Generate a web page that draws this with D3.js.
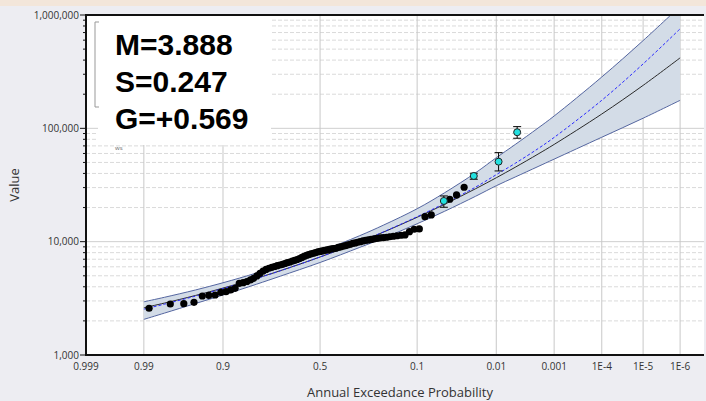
<!DOCTYPE html>
<html>
<head>
<meta charset="utf-8">
<script src="https://cdn.jsdelivr.net/npm/d3@7"></script>
<style>
  body { margin: 0; background: #ededf2; }
  svg { display: block; }
</style>
</head>
<body>
<div id="chart"></div>
<script>
// axis ticks
var probTicks = [0.999, 0.99, 0.9, 0.5, 0.1, 0.01, 0.001, 1e-4, 1e-5, 1e-6]
var probTickLabels = ['0.999', '0.99', '0.9', '0.5', '0.1', '0.01', '0.001', '1E-4', '1E-5', '1E-6']
var valueTicks = [1000, 10000, 100000, 1000000]
var valueTickLabels = ['1,000', '10,000', '100,000', '1,000,000']

// fitted curves, read at these exceedance probabilities
var curveProbs = [0.99, 0.98, 0.95, 0.9, 0.8, 0.7, 0.5, 0.3, 0.2, 0.1, 0.05, 0.02, 0.01, 0.005, 0.002, 0.001, 1e-4, 1e-5, 1e-6]
var computedCurve = [2611, 2872, 3352, 3895, 4748, 5544, 7325, 9966, 12185, 16415, 21380, 29330, 36640, 45320, 59290, 72110, 133700, 239300, 418500]
var expectedCurve = [2540, 2810, 3310, 3860, 4730, 5535, 7325, 9985, 12230, 16600, 21800, 30300, 39000, 49110, 66200, 83100, 176700, 370200, 755300]
var upperLimit = [2948, 3231, 3748, 4339, 5284, 6164, 8194, 11300, 14040, 19520, 27020, 40560, 55030, 71950, 100600, 128400, 283700, 594500, 1193000]
var lowerLimit = [2062, 2343, 2848, 3379, 4207, 4961, 6551, 8906, 10780, 14390, 18550, 25160, 31150, 37170, 46020, 53480, 83430, 122800, 176700]

// observed peaks (systematic record)
var obsProb = [0.988, 0.976, 0.964, 0.952, 0.940, 0.929, 0.917, 0.905, 0.893, 0.881, 0.869, 0.857,
  0.845, 0.833, 0.821, 0.810, 0.798, 0.786, 0.774, 0.762, 0.750, 0.738, 0.726, 0.714, 0.702, 0.690,
  0.679, 0.667, 0.655, 0.643, 0.631, 0.619, 0.607, 0.595, 0.583, 0.571, 0.560, 0.548, 0.536, 0.524,
  0.512, 0.500, 0.488, 0.476, 0.464, 0.452, 0.440, 0.429, 0.417, 0.405, 0.393, 0.381, 0.369, 0.357,
  0.345, 0.333, 0.321, 0.310, 0.298, 0.286, 0.274, 0.262, 0.250, 0.238, 0.226, 0.214, 0.202, 0.190,
  0.179, 0.167, 0.155, 0.143, 0.131, 0.119, 0.107, 0.095, 0.083, 0.071, 0.0434, 0.0358, 0.0286]
var obsValue = [2584, 2819, 2837, 2918, 3317, 3365, 3385, 3575, 3620, 3748, 3879, 4294,
  4346, 4453, 4592, 4753, 4982, 5261, 5513, 5684, 5825, 5943, 6040, 6140, 6227, 6316,
  6420, 6526, 6618, 6755, 6850, 6963, 7106, 7253, 7402, 7554, 7679, 7788, 7900, 7997,
  8112, 8194, 8278, 8363, 8448, 8535, 8622, 8674, 8744, 8888, 8978, 9107, 9219, 9351,
  9485, 9641, 9739, 9879, 10000, 10143, 10247, 10351, 10457, 10564, 10671, 10781, 10847, 10935,
  11046, 11160, 11273, 11388, 11457, 12255, 12868, 12947, 16623, 17206, 23670, 25840, 30210]

// historic peaks with interval bars
var histProb = [0.0511, 0.0212, 0.00921, 0.00463]
var histValue = [22870, 38010, 50830, 92370]
var histLow = [20120, 35540, 42070, 81760]
var histHigh = [25320, 40160, 61030, 103500]

var statLines = ['M=3.888', 'S=0.247', 'G=+0.569']

var w = 706
var h = 401
var plot = { left: 86, right: 704, top: 15, bottom: 355 }

// inverse standard normal (Acklam)
function normInv (p) {
  var a = [-3.969683028665376e+01, 2.209460984245205e+02, -2.759285104469687e+02, 1.383577518672690e+02, -3.066479806614716e+01, 2.506628277459239e+00]
  var b = [-5.447609879822406e+01, 1.615858368580409e+02, -1.556989798598866e+02, 6.680131188771972e+01, -1.328068155288572e+01]
  var c = [-7.784894002430293e-03, -3.223964580411365e-01, -2.400758277161838e+00, -2.549732539343734e+00, 4.374664141464968e+00, 2.938163982698783e+00]
  var d = [7.784695709041462e-03, 3.224671290700398e-01, 2.445134137142996e+00, 3.754408661907416e+00]
  var plow = 0.02425
  var q, r
  if (p < plow) {
    q = Math.sqrt(-2 * Math.log(p))
    return (((((c[0] * q + c[1]) * q + c[2]) * q + c[3]) * q + c[4]) * q + c[5]) / ((((d[0] * q + d[1]) * q + d[2]) * q + d[3]) * q + 1)
  }
  if (p <= 1 - plow) {
    q = p - 0.5
    r = q * q
    return (((((a[0] * r + a[1]) * r + a[2]) * r + a[3]) * r + a[4]) * r + a[5]) * q / (((((b[0] * r + b[1]) * r + b[2]) * r + b[3]) * r + b[4]) * r + 1)
  }
  q = Math.sqrt(-2 * Math.log(1 - p))
  return -(((((c[0] * q + c[1]) * q + c[2]) * q + c[3]) * q + c[4]) * q + c[5]) / ((((d[0] * q + d[1]) * q + d[2]) * q + d[3]) * q + 1)
}

// exceedance probability -> standard normal variate
function zOf (p) { return normInv(1 - p) }

var scale_x_z = d3.scaleLinear().domain([zOf(0.999), zOf(2e-7)]).range([plot.left, plot.right])
function x (p) { return scale_x_z(zOf(p)) }
var y = d3.scaleLog().domain([1000, 1000000]).range([plot.bottom, plot.top])

var svg = d3.select('#chart').append('svg')
  .attr('width', w)
  .attr('height', h)
  .attr('viewBox', [0, 0, w, h].join(' '))
  .style('font-family', '"Open Sans", sans-serif')

svg.append('rect').attr('x', 0).attr('y', 0).attr('width', w).attr('height', 6).attr('fill', '#f3e6da')

svg.append('defs').append('clipPath').attr('id', 'clip')
  .append('rect')
  .attr('x', plot.left).attr('y', plot.top)
  .attr('width', plot.right - plot.left).attr('height', plot.bottom - plot.top)

svg.append('rect')
  .attr('x', plot.left).attr('y', plot.top)
  .attr('width', plot.right - plot.left).attr('height', plot.bottom - plot.top)
  .attr('fill', '#fff')

// minor values 2..9 per decade
var minorValues = []
valueTicks.slice(0, -1).forEach(function (dec) {
  d3.range(2, 10).forEach(function (m) { minorValues.push(dec * m) })
})

var grid = svg.append('g')
minorValues.forEach(function (v) {
  grid.append('line')
    .attr('x1', plot.left).attr('x2', plot.right)
    .attr('y1', y(v)).attr('y2', y(v))
    .attr('stroke', '#dadada').attr('stroke-dasharray', '4,2')
})
valueTicks.forEach(function (v) {
  grid.append('line')
    .attr('x1', plot.left).attr('x2', plot.right)
    .attr('y1', y(v)).attr('y2', y(v))
    .attr('stroke', '#cfcfcf')
})
probTicks.forEach(function (p) {
  grid.append('line')
    .attr('x1', x(p)).attr('x2', x(p))
    .attr('y1', plot.top).attr('y2', plot.bottom)
    .attr('stroke', '#c8c8c8')
})

// white legend box over the top-left corner
svg.append('rect').attr('x', plot.left).attr('y', plot.top).attr('width', 185).attr('height', 105).attr('fill', '#fff')
svg.append('rect').attr('x', 98).attr('y', plot.top).attr('width', 173).attr('height', 130).attr('fill', '#fff')
svg.append('path')
  .attr('d', 'M99,22 H95 V107 H99')
  .attr('fill', 'none').attr('stroke', '#999')
svg.append('text').text('ws')
  .attr('x', 115).attr('y', 150)
  .attr('font-size', '6px').attr('fill', '#666')

var curves = svg.append('g').attr('clip-path', 'url(#clip)')
var smooth = d3.curveCatmullRom.alpha(0.5)

var band = d3.area()
  .x(function (d, i) { return x(curveProbs[i]) })
  .y0(function (d, i) { return y(lowerLimit[i]) })
  .y1(function (d, i) { return y(upperLimit[i]) })
  .curve(smooth)

function lineOf (arr) {
  return d3.line()
    .x(function (d, i) { return x(curveProbs[i]) })
    .y(function (d, i) { return y(arr[i]) })
    .curve(smooth)(arr)
}

curves.append('path').attr('d', band(curveProbs)).attr('fill', '#d3dce7')
curves.append('path').attr('d', lineOf(upperLimit)).attr('fill', 'none').attr('stroke', '#5566a0').attr('stroke-width', 1)
curves.append('path').attr('d', lineOf(lowerLimit)).attr('fill', 'none').attr('stroke', '#5566a0').attr('stroke-width', 1)
curves.append('path').attr('d', lineOf(computedCurve)).attr('fill', 'none').attr('stroke', '#2a2a2a').attr('stroke-width', 1)
curves.append('path').attr('d', lineOf(expectedCurve)).attr('fill', 'none').attr('stroke', '#2b2bff').attr('stroke-width', 1).attr('stroke-dasharray', '3,2')

// observed points
obsProb.forEach(function (p, i) {
  svg.append('circle')
    .attr('cx', x(p)).attr('cy', y(obsValue[i]))
    .attr('r', 3.6).attr('fill', '#000')
})

// historic points with bars
histProb.forEach(function (p, i) {
  var cx = x(p)
  svg.append('line').attr('x1', cx).attr('x2', cx)
    .attr('y1', y(histLow[i])).attr('y2', y(histHigh[i]))
    .attr('stroke', '#000')
  ;[histLow[i], histHigh[i]].forEach(function (v) {
    svg.append('line').attr('x1', cx - 4).attr('x2', cx + 4)
      .attr('y1', y(v)).attr('y2', y(v))
      .attr('stroke', '#000')
  })
  svg.append('circle')
    .attr('cx', cx).attr('cy', y(histValue[i]))
    .attr('r', 3.5).attr('fill', '#22e0e0').attr('stroke', '#222').attr('stroke-width', 1)
})

// stats text
statLines.forEach(function (t, i) {
  svg.append('text').text(t)
    .attr('x', 115).attr('y', 55 + i * 37)
    .attr('font-family', '"Liberation Sans", Arial, sans-serif')
    .attr('font-weight', 'bold').attr('font-size', '30px')
    .attr('fill', '#000')
})

// axes frame
var axes = svg.append('g').attr('stroke', '#111')
axes.append('line').attr('x1', plot.left).attr('x2', plot.left).attr('y1', plot.top - 1).attr('y2', plot.bottom + 1).attr('stroke-width', 2)
axes.append('line').attr('x1', plot.left).attr('x2', plot.right).attr('y1', plot.bottom).attr('y2', plot.bottom).attr('stroke-width', 2)
axes.append('line').attr('x1', plot.left).attr('x2', plot.right).attr('y1', plot.top).attr('y2', plot.top).attr('stroke-width', 2)

valueTicks.forEach(function (v) {
  axes.append('line').attr('x1', plot.left - 6).attr('x2', plot.left).attr('y1', y(v)).attr('y2', y(v))
})
minorValues.forEach(function (v) {
  axes.append('line').attr('x1', plot.left - 3).attr('x2', plot.left + 1).attr('y1', y(v)).attr('y2', y(v))
})

valueTicks.forEach(function (v, i) {
  svg.append('text').text(valueTickLabels[i])
    .attr('x', plot.left - 7).attr('y', y(v)).attr('dy', '0.35em')
    .attr('text-anchor', 'end').attr('font-size', '10px').attr('fill', '#333')
})
probTicks.forEach(function (p, i) {
  svg.append('text').text(probTickLabels[i])
    .attr('x', x(p)).attr('y', 370)
    .attr('text-anchor', 'middle').attr('font-size', '10px').attr('fill', '#333')
})

svg.append('text').text('Annual Exceedance Probability')
  .attr('x', 400).attr('y', 397)
  .attr('text-anchor', 'middle').attr('font-size', '13px').attr('fill', '#333')
svg.append('text').text('Value')
  .attr('transform', 'translate(19,185) rotate(-90)')
  .attr('text-anchor', 'middle').attr('font-size', '13px').attr('fill', '#333')
</script>
</body>
</html>
